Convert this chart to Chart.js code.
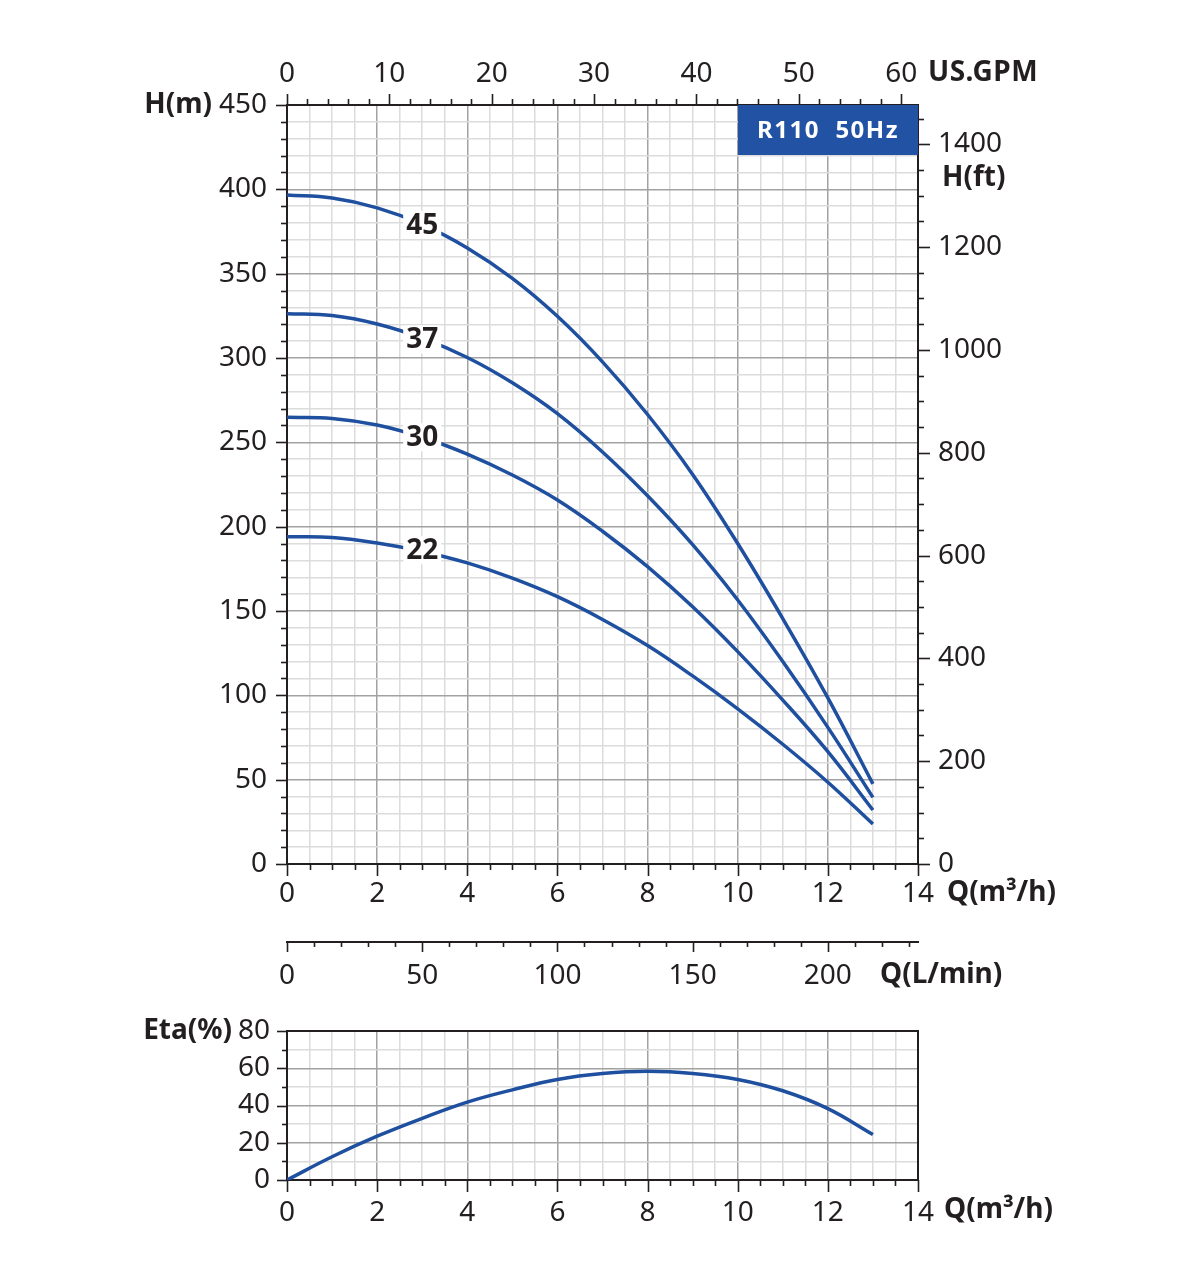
<!DOCTYPE html>
<html><head><meta charset="utf-8">
<script src="https://cdn.jsdelivr.net/npm/chart.js@4/dist/chart.umd.min.js"></script>
<style>
html,body{margin:0;padding:0;background:#fff;}
#wrap{position:relative;width:1200px;height:1276px;background:#fff;}
canvas{position:absolute;left:0;}
#c1{top:0;} #c2{top:1000px;}
</style></head><body>
<div id="wrap"><canvas id="c1" width="1200" height="1000"></canvas><canvas id="c2" width="1200" height="276"></canvas></div>
<script>
// ---- data ----
const flowQ = [0,1,2,3,4,5,6,7,8,9,10,11,12,13];
const head45 = [396.6,394.8,389.0,379.2,365.2,347.2,324.7,297.7,266.5,231.0,190.0,145.5,98.5,47.5];
const head37 = [326.3,325.2,320.2,311.8,300.3,285.3,267.0,244.3,218.3,189.3,156.5,120.0,81.0,39.5];
const head30 = [264.8,264.2,260.3,253.0,243.0,230.6,215.8,197.3,176.3,152.5,125.9,97.2,66.6,32.0];
const head22 = [194.0,193.6,190.3,185.3,178.5,169.5,158.5,145.0,129.5,111.5,92.0,71.0,48.5,23.7];
const etaPct = [0,12.5,23.5,33.1,41.8,48.4,54.0,57.2,58.4,57.2,54.0,47.9,38.3,24.4];
const curveNames = ['45','37','30','22'];
const labelQ = 3;
const labelH = [379,311,253,186];
const qRange = [0,14];
const hRange = [0,450];
const etaRange = [0,80];
const GPM_PER_M3H = 1/0.2271247;
const FT_PER_M = 3.28084;
const LMIN_PER_M3H = 1000/60;
const titleText = 'R110  50Hz';

// ---- style ----
const BLUE = '#1f4f9f';
const AXIS = '#231f20';
const MINOR = '#dcdcdc';
const MAJOR = '#a2a2a2';
const FONT = '"Noto Sans", "Open Sans", sans-serif';
const isMult = (v, m) => Math.abs(v/m - Math.round(v/m)) < 1e-6;

function tickMarks(chart, id, side, step, major, minLen, majLen){
  const s = chart.scales[id]; const ctx = chart.ctx;
  ctx.save(); ctx.strokeStyle = AXIS; ctx.lineWidth = 1.6;
  s.ticks.forEach(t => {
    if (!isMult(t.value, step)) return;
    const len = isMult(t.value, major) ? majLen : minLen;
    const p = Math.round(s.getPixelForValue(t.value)) + 0.5;
    ctx.beginPath();
    if (side === 'bottom'){ ctx.moveTo(p, s.top); ctx.lineTo(p, s.top + len); }
    else if (side === 'top'){ ctx.moveTo(p, s.bottom); ctx.lineTo(p, s.bottom - len); }
    else if (side === 'left'){ ctx.moveTo(s.right, p); ctx.lineTo(s.right - len, p); }
    else { ctx.moveTo(s.left, p); ctx.lineTo(s.left + len, p); }
    ctx.stroke();
  });
  ctx.restore();
}
function txt(ctx, s, x, y, align, bold, size, color, spacing){
  ctx.save();
  ctx.font = (bold ? 'bold ' : '') + (size||28) + 'px ' + FONT;
  if (spacing) ctx.letterSpacing = spacing;
  ctx.fillStyle = color || AXIS; ctx.textAlign = align; ctx.textBaseline = 'middle';
  ctx.fillText(s, x, y); ctx.restore();
}
const gridColor = (m) => (c) => isMult(c.tick.value, m) ? MAJOR : MINOR;
const tickFont = {family: FONT, size: 28, lineHeight: 1};

// ---- main chart ----
const curves = [head45, head37, head30, head22];
const mainPlugin = {
  id: 'mainDeco',
  afterDatasetsDraw(chart){
    const ctx = chart.ctx, a = chart.chartArea;
    const xs = chart.scales.x, ys = chart.scales.y;
    tickMarks(chart,'x','bottom',0.5,2,6,12);
    tickMarks(chart,'xTop','top',2,10,6,11);
    tickMarks(chart,'y','left',10,50,6,11);
    tickMarks(chart,'yFt','right',50,200,6,12);
    tickMarks(chart,'xL','bottom',10,50,5,10);
    // curve labels
    curveNames.forEach((n,i) => {
      const px = xs.getPixelForValue(labelQ), py = ys.getPixelForValue(labelH[i]);
      ctx.save(); ctx.font = 'bold 28px ' + FONT;
      const w = ctx.measureText(n).width;
      ctx.fillStyle = '#fff'; ctx.fillRect(px - w/2 - 3, py - 14, w + 6, 28);
      ctx.restore();
      txt(ctx, n, px, py + 1, 'center', true, 28);
    });
    // title box
    ctx.save(); ctx.fillStyle = '#2152a3';
    ctx.fillRect(a.right - 180, a.top, 180, 50); ctx.restore();
    txt(ctx, titleText, a.right - 90, a.top + 26, 'center', true, 24, '#fff', '1.5px');
    // axis titles
    txt(ctx, 'H(m)', a.left - 75, a.top, 'right', true, 28);
    txt(ctx, 'US.GPM', a.right + 10, 73, 'left', true, 28, AXIS, '0.5px');
    txt(ctx, 'H(ft)', a.right + 24, 178, 'left', true, 28);
    txt(ctx, 'Q(m³/h)', a.right + 29, 893, 'left', true, 28);
    txt(ctx, 'Q(L/min)', 880, 975, 'left', true, 28);
  }
};
new Chart(document.getElementById('c1'), {
  type: 'line',
  data: { datasets: curves.map((c,i) => ({
    label: curveNames[i], data: flowQ.map((q,j) => ({x:q, y:c[j]})),
    borderColor: BLUE, borderWidth: 3.5, pointRadius: 0, tension: 0.4,
    xAxisID: 'x', yAxisID: 'y', fill: false
  }))},
  options: {
    responsive: false, animation: false, devicePixelRatio: 1,
    layout: {padding: 0},
    plugins: {legend: {display:false}, tooltip: {enabled:false}},
    scales: {
      x: { type:'linear', position:'bottom', min:qRange[0], max:qRange[1], weight: 0,
        ticks: {stepSize:0.5, autoSkip:false, maxRotation:0, padding:16, color:AXIS, font:tickFont,
          callback: v => isMult(v,2) ? String(Math.round(v)) : ''},
        grid: {color: gridColor(2), lineWidth: 1.5, drawTicks:false},
        border: {display:true, color:AXIS, width:2},
        afterFit: s => { s.height = 78; } },
      xL: { type:'linear', position:'bottom', min:0, max:qRange[1]*LMIN_PER_M3H, weight: 1,
        ticks: {stepSize:10, includeBounds:false, autoSkip:false, maxRotation:0, padding:20, color:AXIS, font:tickFont,
          callback: v => isMult(v,50) ? String(Math.round(v)) : ''},
        grid: {display:false, drawTicks:false},
        border: {display:true, color:AXIS, width:2},
        afterFit: s => { s.height = 58; } },
      xTop: { type:'linear', position:'top', min:0, max:qRange[1]*GPM_PER_M3H,
        ticks: {stepSize:2, includeBounds:false, autoSkip:false, maxRotation:0, padding:17, color:AXIS, font:tickFont,
          callback: v => isMult(v,10) ? String(Math.round(v)) : ''},
        grid: {display:false, drawTicks:false},
        border: {display:true, color:AXIS, width:2},
        afterFit: s => { s.height = 105; } },
      y: { type:'linear', position:'left', min:hRange[0], max:hRange[1],
        ticks: {stepSize:10, autoSkip:false, padding:20, color:AXIS, font:tickFont,
          callback: v => isMult(v,50) ? String(Math.round(v)) : ''},
        grid: {color: gridColor(50), lineWidth: 1.5, drawTicks:false},
        border: {display:true, color:AXIS, width:2},
        afterFit: s => { s.width = 287; } },
      yFt: { type:'linear', position:'right', min:hRange[0]*FT_PER_M, max:hRange[1]*FT_PER_M,
        ticks: {stepSize:50, includeBounds:false, autoSkip:false, padding:20, color:AXIS, font:tickFont,
          callback: v => isMult(v,200) ? String(Math.round(v)) : ''},
        grid: {display:false, drawTicks:false},
        border: {display:true, color:AXIS, width:2},
        afterFit: s => { s.width = 282; } }
    }
  },
  plugins: [mainPlugin]
});

// ---- efficiency chart ----
const etaPlugin = {
  id: 'etaDeco',
  afterDatasetsDraw(chart){
    const ctx = chart.ctx, a = chart.chartArea;
    ctx.save(); ctx.strokeStyle = AXIS; ctx.lineWidth = 2;
    ctx.beginPath(); ctx.moveTo(a.left, a.top); ctx.lineTo(a.right, a.top); ctx.lineTo(a.right, a.bottom); ctx.stroke();
    ctx.restore();
    tickMarks(chart,'x','bottom',0.5,2,6,12);
    tickMarks(chart,'y','left',10,20,5,10);
    txt(ctx, 'Eta(%)', a.left - 55, a.top, 'right', true, 28);
    txt(ctx, 'Q(m³/h)', a.right + 26, 210, 'left', true, 28);
  }
};
new Chart(document.getElementById('c2'), {
  type: 'line',
  data: { datasets: [{
    label: 'Eta', data: flowQ.map((q,j) => ({x:q, y:etaPct[j]})),
    borderColor: BLUE, borderWidth: 3.5, pointRadius: 0, tension: 0.4, fill: false
  }]},
  options: {
    responsive: false, animation: false, devicePixelRatio: 1,
    layout: {padding: {top:25, right:282, left:0, bottom:0}},
    plugins: {legend: {display:false}, tooltip: {enabled:false}},
    scales: {
      x: { type:'linear', position:'bottom', min:qRange[0], max:qRange[1],
        ticks: {stepSize:0.5, autoSkip:false, maxRotation:0, padding:19, color:AXIS, font:tickFont,
          callback: v => isMult(v,2) ? String(Math.round(v)) : ''},
        grid: {color: gridColor(2), lineWidth: 1.5, drawTicks:false},
        border: {display:true, color:AXIS, width:2},
        afterFit: s => { s.height = 96; } },
      y: { type:'linear', position:'left', min:etaRange[0], max:etaRange[1],
        ticks: {stepSize:10, autoSkip:false, padding:17, color:AXIS, font:tickFont,
          callback: v => isMult(v,20) ? String(Math.round(v)) : ''},
        grid: {color: gridColor(20), lineWidth: 1.5, drawTicks:false},
        border: {display:true, color:AXIS, width:2},
        afterFit: s => { s.width = 287; } }
    }
  },
  plugins: [etaPlugin]
});
</script></body></html>
